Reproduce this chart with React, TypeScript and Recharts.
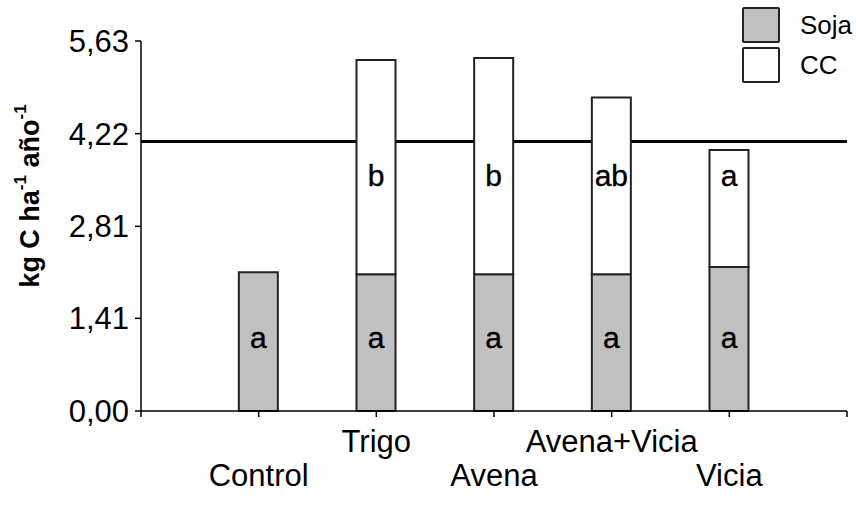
import { BarChart, Bar, XAxis, YAxis, CartesianGrid, LabelList } from "recharts";

const categories = ["Control", "Trigo", "Avena", "Avena+Vicia", "Vicia"];
const sojaValues = [2.11, 2.08, 2.08, 2.08, 2.19];
const ccValues = [null, 3.26, 3.29, 2.69, 1.78];
const sojaLetters = ["a", "a", "a", "a", "a"];
const ccLetters = ["", "b", "b", "ab", "a"];
const yTicks = [0, 1.41, 2.81, 4.22, 5.63];
const xTicks = [0, 1, 2, 3, 4, 5, 6];
const referenceValue = 4.1;

const FONT = "'Liberation Sans', Arial, sans-serif";

const data = categories.map((name, i) => ({
  x: i + 1,
  name,
  soja: sojaValues[i],
  cc: ccValues[i],
  sojaLetter: sojaLetters[i],
  ccLetter: ccLetters[i],
}));

const CategoryTick = (props: any) => {
  const { x, y, payload } = props;
  const idx = payload.value - 1;
  if (idx < 0 || idx >= categories.length) return null;
  const upper = payload.value % 2 === 0;
  return (
    <text
      x={x}
      y={upper ? y + 22 : y + 56}
      textAnchor="middle"
      dominantBaseline="central"
      fontSize={31}
      fontFamily={FONT}
      fill="#000"
    >
      {categories[idx]}
    </text>
  );
};

const letterAt = (fixedY: number) => (props: any) => {
  const { x, width, value } = props;
  if (!value) return null;
  return (
    <text
      x={x + width / 2}
      y={fixedY}
      textAnchor="middle"
      dominantBaseline="central"
      fontSize={30}
      fontFamily={FONT}
      fill="#000"
      stroke="#000"
      strokeWidth={0.4}
    >
      {value}
    </text>
  );
};

const YLabel = () => (
  <text
    transform="translate(30, 196) rotate(-90)"
    textAnchor="middle"
    dominantBaseline="central"
    fontSize={27}
    fontWeight="bold"
    fontFamily={FONT}
    fill="#000"
  >
    kg C ha
    <tspan fontSize={17} dy={-10}>-1</tspan>
    <tspan dy={10}> año</tspan>
    <tspan fontSize={17} dy={-10}>-1</tspan>
  </text>
);

const LegendBox = () => (
  <div style={{ position: "absolute", left: 742, top: 5, fontFamily: FONT, fontSize: 26, color: "#000" }}>
    {[
      { label: "Soja", fill: "#c0c0c0" },
      { label: "CC", fill: "#fff" },
    ].map((item) => (
      <div key={item.label} style={{ display: "flex", alignItems: "center", height: 40 }}>
        <div
          style={{
            width: 34,
            height: 32,
            background: item.fill,
            border: "2px solid #222",
            borderRadius: 2,
            marginRight: 20,
          }}
        />
        <span>{item.label}</span>
      </div>
    ))}
  </div>
);

export default function App() {
  return (
    <div style={{ position: "absolute", left: 0, top: 0, width: 856, height: 519, background: "#fff" }}>
      <BarChart
        width={856}
        height={519}
        data={data}
        margin={{ top: 41, right: 9, bottom: 47, left: 0 }}
        barSize={39}
      >
        <CartesianGrid
          vertical={false}
          horizontalValues={[referenceValue]}
          stroke="#000"
          strokeWidth={3}
        />
        <XAxis
          type="number"
          dataKey="x"
          domain={[0, 6]}
          ticks={xTicks}
          interval={0}
          height={61}
          tick={<CategoryTick />}
          tickSize={6}
          axisLine={{ stroke: "#000", strokeWidth: 1.5 }}
          tickLine={{ stroke: "#000", strokeWidth: 1.5 }}
        />
        <YAxis
          domain={[0, 5.63]}
          ticks={yTicks}
          width={141}
          tickSize={6}
          tickMargin={6}
          interval={0}
          tickFormatter={(v: number) => v.toFixed(2).replace(".", ",")}
          tick={{ fontSize: 31, fontFamily: FONT, fill: "#000" }}
          axisLine={{ stroke: "#000", strokeWidth: 1.5 }}
          tickLine={{ stroke: "#000", strokeWidth: 1.5 }}
          label={<YLabel />}
        />
        <Bar dataKey="soja" stackId="s" fill="#c0c0c0" stroke="#222" strokeWidth={2} isAnimationActive={false}>
          <LabelList dataKey="sojaLetter" content={letterAt(337)} />
        </Bar>
        <Bar dataKey="cc" stackId="s" fill="#fff" stroke="#222" strokeWidth={2} isAnimationActive={false}>
          <LabelList dataKey="ccLetter" content={letterAt(175)} />
        </Bar>
      </BarChart>
      <LegendBox />
    </div>
  );
}
